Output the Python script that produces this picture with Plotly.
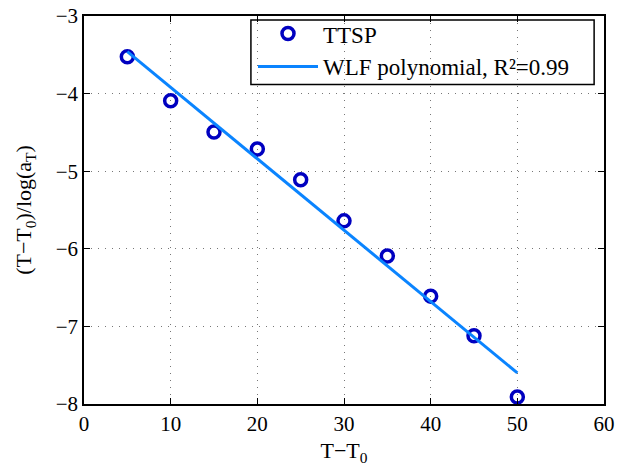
import plotly.graph_objects as go

# Data
dT = [5, 10, 15, 20, 25, 30, 35, 40, 45, 50]
ratio = [-3.525, -4.093, -4.496, -4.714, -5.11, -5.64, -6.093, -6.61, -7.12, -7.91]

fit_x = [5, 50]
fit_y = [-3.46, -7.60]

x_ticks = [0, 10, 20, 30, 40, 50, 60]
y_ticks = [-8, -7, -6, -5, -4, -3]

FONT = "Liberation Serif"

fig = go.Figure()
fig.add_trace(go.Scatter(
    x=dT, y=ratio, mode="markers", name="TTSP",
    marker=dict(symbol="circle-open", size=12, color="#0000C0",
                line=dict(width=3.5, color="#0000C0")),
))
fig.add_trace(go.Scatter(
    x=fit_x, y=fit_y, mode="lines", name="WLF polynomial, R²=0.99",
    line=dict(color="#0A84FF", width=3),
))

axis_common = dict(
    showline=True, linecolor="black", linewidth=1.5, mirror="ticks",
    ticks="inside", ticklen=6, tickcolor="black", tickwidth=1,
    showgrid=True, gridcolor="#777777", griddash="1px,6px", gridwidth=1,
    zeroline=False, ticklabeloverflow="allow", automargin=False,
    tickfont=dict(family=FONT, size=21, color="black"),
)

fig.update_layout(
    width=618, height=474,
    margin=dict(l=84, r=14, t=13, b=70),
    paper_bgcolor="white", plot_bgcolor="white",
    font=dict(family=FONT, size=20, color="black"),
    showlegend=True,
    legend=dict(
        x=0.325, y=1.01, xanchor="left", yanchor="top",
        bgcolor="rgba(0,0,0,0)", borderwidth=0,
        font=dict(family=FONT, size=23, color="black"),
        itemwidth=60, tracegroupgap=0,
    ),
    shapes=[dict(type="rect", xref="paper", yref="paper",
                 x0=0.321, x1=0.981, y0=0.8235, y1=0.990,
                 fillcolor="white", line=dict(color="black", width=1.5),
                 layer="between")],
    xaxis=dict(range=[0, 60], tickvals=x_ticks,
               title=dict(text="T−T<sub>0</sub>", font=dict(family=FONT, size=22), standoff=8),
               **axis_common),
    yaxis=dict(range=[-8, -3], tickvals=y_ticks,
               title=dict(text="(T−T<sub>0</sub>)/log(a<sub>T</sub>)", font=dict(family=FONT, size=22), standoff=18),
               **axis_common),
)

fig.write_html("out.html")
